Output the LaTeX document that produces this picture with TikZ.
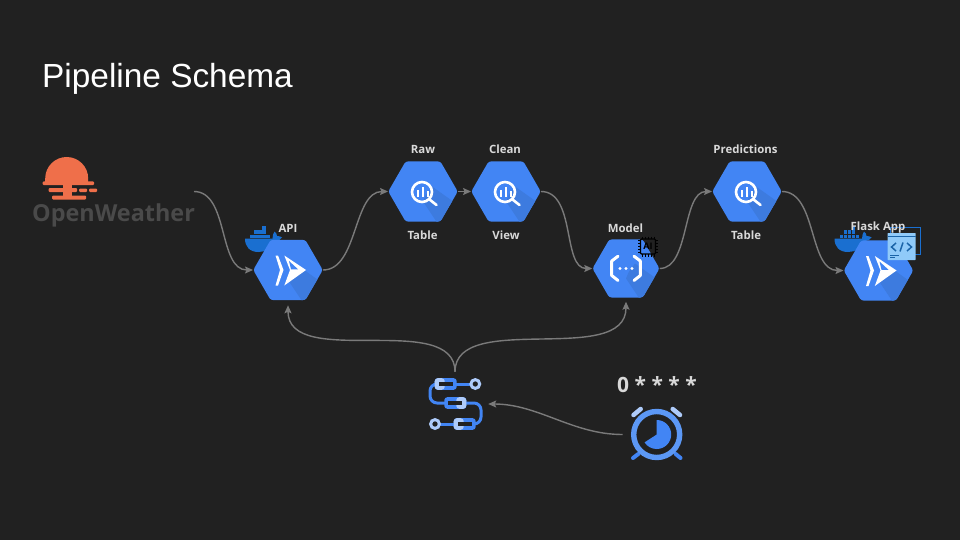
\documentclass[tikz,border=0pt]{standalone}
\usepackage{fontspec}
\setmainfont{Open Sans}
\newfontfamily\titlefont{Liberation Sans}
\usepackage{xcolor}
\usetikzlibrary{arrows.meta}
\usetikzlibrary{shapes.geometric}

\definecolor{slidebg}{HTML}{212121}
\definecolor{gcpblue}{HTML}{4285F4}
\definecolor{gcpshade}{HTML}{3D7BDF}
\definecolor{gcplight}{HTML}{AECBFA}
\definecolor{gcpmid}{HTML}{5C98F5}
\definecolor{linkgray}{HTML}{7A7A7A}
\definecolor{labelgray}{HTML}{D9D9D9}
\definecolor{sunorange}{HTML}{EF6F4A}
\definecolor{owmgray}{HTML}{4A4A4A}
\definecolor{dockerblue}{HTML}{1A6FD0}
\definecolor{codelight}{HTML}{90CAF9}
\definecolor{codedark}{HTML}{1B64A8}

\tikzset{
	hexbox/.style={shape=regular polygon,regular polygon sides=6,fill=gcpblue,rounded corners=2.5pt,inner sep=0pt},
	tag/.style={font=\bfseries\fontsize{11.4}{13}\selectfont,text=labelgray,inner sep=0pt},
	link/.style={linkgray,line width=1.4pt,-{Stealth[length=8pt,width=7pt,inset=1.5pt]}},
	whiteline/.style={white,line width=2.6pt},
	flowline/.style={gcpblue,line width=3pt},
	iconbox/.style={inner sep=0pt}
}

% hexagon with the darker fold towards the lower right
\newcommand{\gcphex}[3][34.75]{
	\node[hexbox,minimum size=2*#1pt] (#2) at (#3) {};
	\begin{scope}[shift={(#3)}]
		\clip[rounded corners=2.5pt] (-#1,0) -- (-0.5*#1,-0.866*#1) -- (0.5*#1,-0.866*#1) -- (#1,0) -- (0.5*#1,0.866*#1) -- (-0.5*#1,0.866*#1) --cycle;
		\fill[gcpshade] (0,10) -- (20,40) -- (40,40) -- (40,17) -- (9,-5) -- (3,3) --cycle;
	\end{scope}
}
\newcommand{\lensicon}[1]{
	\begin{scope}[shift={(#1)}]
		\draw[whiteline] (-1,0.5) circle (10);
		\draw[whiteline,line cap=round] (6.5,8) -- (13.5,13.5);
		\foreach \x/\h in {-5.3/6.5,-0.3/10,4.7/5.5}{
			\fill[white] (\x-0.8,5) rectangle (\x+0.8,5-\h);
		}
	\end{scope}
}
\newcommand{\runicon}[1]{
	\begin{scope}[shift={(#1)}]
		\fill[white] (-12.5,-14.5) -- (-10,-14.5) -- (-4.5,0) -- (-10,15.5) -- (-12.5,15.5) -- (-8,0) --cycle;
		\fill[white] (-3.7,-14.5) -- (18,0) -- (-3.7,15.5) -- (2,0) --cycle;
		\fill[gcpblue] (1,-9) -- (10,-0.7) -- (3,-0.7) --cycle;
	\end{scope}
}
\newcommand{\whaleicon}[1]{
	\begin{scope}[shift={(#1)}]
		\fill[dockerblue] (-18.5,-0.8) -- (9,-0.8) .. controls (9,-4) and (10,-7) .. (11,-8) .. controls (12.5,-7) and (13.5,-5) .. (13.5,-3.5) .. controls (15.5,-3.5) and (17.5,-3) .. (18.5,-2) .. controls (17,0.5) and (15,1) .. (13.5,1) .. controls (9,9) and (2,12.5) .. (-5,12.5) .. controls (-14,12.5) and (-18.5,7) .. (-18.5,-0.8) --cycle;
		\foreach \x in {-13.5,-9.5,-5.5,-1.5,2.5}{
			\fill[dockerblue] (\x,-5) rectangle (\x+3.5,-1.2);
		}
		\foreach \x in {-9.5,-5.5,-1.5}{
			\fill[dockerblue] (\x,-9.3) rectangle (\x+3.5,-5.6);
		}
		\fill[dockerblue] (-1.5,-13.5) rectangle (2,-9.9);
	\end{scope}
}
\newcommand{\flowpill}[3]{
	\fill[gcpblue,rounded corners=3pt] (#1-11,#2-5.8) rectangle (#1+11,#2+5.8);
	\fill[gcplight,rounded corners=3pt] (#3-0,#2-5.8) rectangle (#3+10,#2+5.8);
	\fill[slidebg] (#1-7,#2-2.2) rectangle (#1+7,#2+2.2);
}

\begin{document}
\begin{tikzpicture}[x=1pt,y=-1pt]
\fill[slidebg] (0,0) rectangle (960,540);
\useasboundingbox (0,0) rectangle (960,540);

\node[anchor=base west,inner sep=0pt,text=white,font=\titlefont\fontsize{33.4}{36}\selectfont] (title) at (42,88) {Pipeline Schema};

% openweather logo
\fill[sunorange] (45.2,182) -- (45.2,178.5) arc [start angle=180, end angle=360, radius=21.5] -- (88.2,182) --cycle;
\fill[sunorange,rounded corners=1pt] (42.5,181.5) rectangle (94,185);
\fill[sunorange,rounded corners=1pt] (48.5,188) rectangle (77,192);
\fill[sunorange,rounded corners=1pt] (79,188.5) rectangle (87,192);
\fill[sunorange,rounded corners=1pt] (89,188.5) rectangle (97,192);
\fill[sunorange] (63,185) rectangle (72,196);
\fill[sunorange,rounded corners=1pt] (52,195.5) rectangle (86,199.5);
\node[anchor=base,font=\bfseries\fontsize{23.4}{28}\selectfont,text=owmgray,inner sep=0pt] (owm) at (113.5,221) {OpenWeather};
\coordinate (owmout) at (194,191.5);

% whales go under the hexagons
\whaleicon{263.5,239.5}
\whaleicon{853,239.5}

\gcphex{api}{288,270}
\gcphex{raw}{423,191.5}
\gcphex{clean}{506,191.5}
\gcphex[33.5]{model}{626,268.5}
\gcphex{pred}{747,191.5}
\gcphex{flask}{878.5,270.5}

\runicon{288,270}
\lensicon{423,191.5}
\lensicon{506,191.5}
\lensicon{747,191.5}
\runicon{878.5,270.5}

% function braces
\begin{scope}[shift={(626,268.5)}]
	\draw[white,line width=3pt,line cap=round,line join=round] (-8,-12.3) -- (-14.3,-7.5) -- (-14.3,7) -- (-8,12);
	\draw[white,line width=3pt,line cap=round,line join=round] (8,-12.3) -- (14.3,-7.5) -- (14.3,7) -- (8,12);
	\foreach \x in {-6,0,6}{
		\fill[white] (\x,0) circle (1.6);
	}
\end{scope}

% chip on the model
\begin{scope}[shift={(648,246.5)}]
	\draw[black,line width=1.3pt,rounded corners=1pt] (-7.5,-7.5) rectangle (7.5,7.5);
	\foreach \x in {-6,-3,0,3,6}{
		\draw[black,line width=0.8pt] (\x,-10) -- (\x,-7.5);
		\draw[black,line width=0.8pt] (\x,7.5) -- (\x,10);
		\draw[black,line width=0.8pt] (-10,\x) -- (-7.5,\x);
		\draw[black,line width=0.8pt] (7.5,\x) -- (10,\x);
	}
	\node[font=\bfseries\fontsize{9}{10}\selectfont,text=black,inner sep=0pt] (chip) at (0,0) {AI};
\end{scope}

% code window on the flask app
\draw[dockerblue,line width=1pt] (890,227) rectangle (920,254);
\fill[codelight,rounded corners=0.5pt] (887.5,233) rectangle (915.5,260);
\draw[codedark,line width=0.6pt] (887.5,236.5) -- (915.5,236.5);
\draw[codedark,line width=1.5pt] (896,243) -- (891.5,247) -- (896,251);
\draw[codedark,line width=1.5pt] (900,251.5) -- (903,242.5);
\draw[codedark,line width=1.5pt] (907,243) -- (911.5,247) -- (907,251);
\draw[codedark,line width=0.5pt] (890,255.5) -- (899,255.5);
\draw[codedark,line width=0.5pt] (890,257.5) -- (895,257.5);

\node[tag] (apitag) at (288,228) {API};
\node[tag] (rawtag) at (423,149) {Raw};
\node[tag] (tabletag) at (422.5,235) {Table};
\node[tag] (cleantag) at (505,149) {Clean};
\node[tag] (viewtag) at (506,235) {View};
\node[tag] (modeltag) at (625.5,228) {Model};
\node[tag] (predtag) at (745.5,149) {Predictions};
\node[tag] (tabletwo) at (746,235) {Table};
\node[tag] (flasktag) at (878,228) {Flask App};

% workflow
\node[iconbox,minimum width=66pt,minimum height=64pt] (flow) at (455,404) {};
\draw[flowline,rounded corners=7pt] (440,384) -- (430,384) -- (430,403) -- (450,403);
\draw[flowline,rounded corners=7pt] (460,403) -- (481,403) -- (481,424) -- (470,424);
\draw[flowline] (456,384) -- (472,384);
\draw[flowline] (438,424) -- (455,424);
\flowpill{445.7}{384}{434.7}
\flowpill{455.3}{403}{456.3}
\flowpill{464.7}{424}{453.7}
\foreach \x/\y in {475.3/384,435/424}{
	\draw[gcplight,line width=3pt,fill=slidebg] (\x,\y) circle (4.4);
}

% scheduler
\node[iconbox,minimum width=68pt,minimum height=54pt] (sched) at (656.7,434.5) {};
\draw[gcplight,line width=4.5pt,line cap=round] (633.5,415) -- (640.7,409);
\draw[gcplight,line width=4.5pt,line cap=round] (672.7,409) -- (680,415);
\draw[gcpblue,line width=4pt,line cap=round] (633,458) -- (638.3,454);
\draw[gcpblue,line width=4pt,line cap=round] (680.5,458) -- (675.7,454);
\draw[gcpmid,line width=5.4pt,fill=slidebg] (656.7,434.5) circle (23);
\fill[gcpblue] (656.7,434.5) -- +(270:14.5) arc [start angle=270, end angle=507, radius=14.5] --cycle;
\node[font=\bfseries\fontsize{21}{24}\selectfont,text=labelgray,inner sep=0pt] (crontag) at (657,385) {0 * * * *};

% connectors
\draw[link] (owmout) .. controls +(35,0) and +(-35,0) .. (api.west);
\draw[link] (api.east) .. controls +(35,0) and +(-35,0) .. (raw.west);
\draw[link] (raw.east) -- (clean.west);
\draw[link] (clean.east) .. controls +(35,0) and +(-30,0) .. (model.west);
\draw[link] (model.east) .. controls +(30,0) and +(-30,0) .. (pred.west);
\draw[link] (pred.east) .. controls +(35,0) and +(-35,0) .. (flask.west);
\draw[link,shorten >=5pt] (flow.north) .. controls +(0,-62) and +(0,70) .. (api.south);
\draw[link,shorten >=4pt] (flow.north) .. controls +(0,-62) and +(0,70) .. (model.south);
\draw[link] (sched.west) .. controls +(-50,0) and +(50,0) .. (flow.east);
\end{tikzpicture}
\end{document}
